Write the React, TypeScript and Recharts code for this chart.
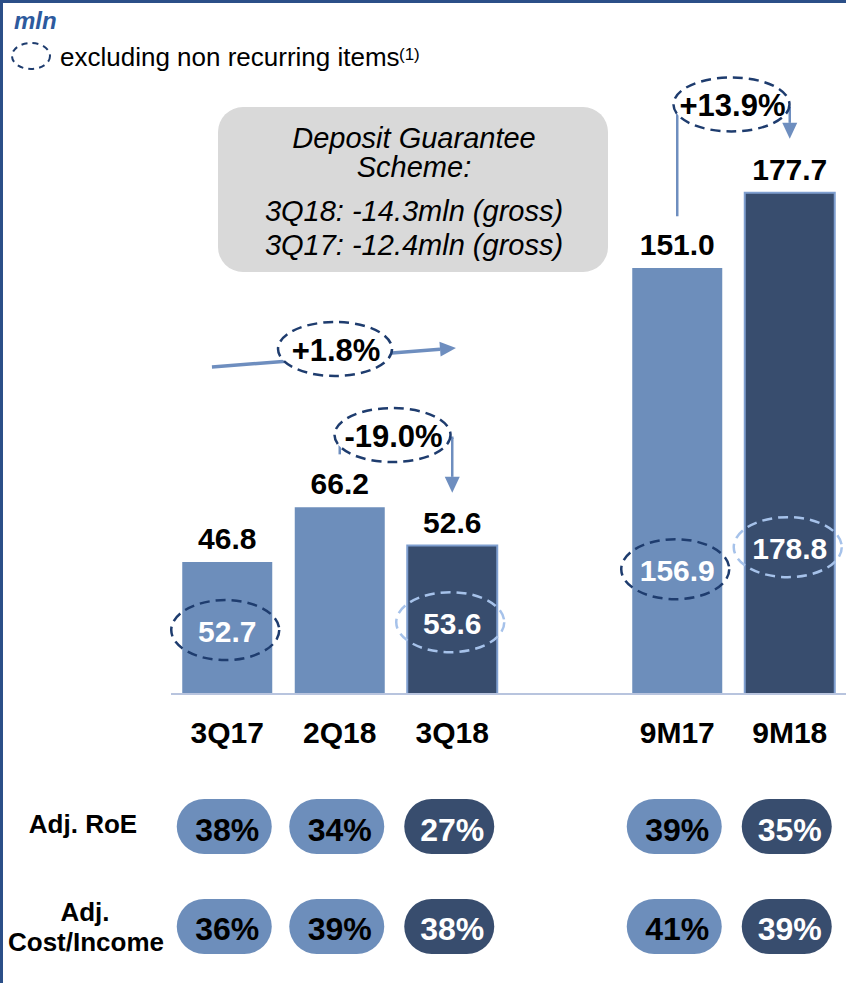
import React from 'react';
import { BarChart, Bar, XAxis, YAxis, Cell, LabelList, ReferenceLine, ReferenceDot } from 'recharts';

// ---------- data ----------
const categories = ['3Q17', '2Q18', '3Q18', ' ', '9M17', '9M18'];
const netProfit: (number | null)[] = [46.8, 66.2, 52.6, null, 151.0, 177.7];
const adjustedProfit: (number | null)[] = [52.7, null, 53.6, null, 156.9, 178.8];
const adjRoE: (number | null)[] = [38, 34, 27, null, 39, 35];
const adjCostIncome: (number | null)[] = [36, 39, 38, null, 41, 39];
const currentPeriod = [false, false, true, false, false, true];
const growthLabels = ['+1.8%', '-19.0%', '+13.9%'];

const data = categories.map((c, i) => ({ name: c, value: netProfit[i] }));

// ---------- style ----------
const FONT = "'Liberation Sans', Arial, Helvetica, sans-serif";
const LIGHT = '#6d8ebb';
const DARK = '#384d6e';
const DARK_EDGE = '#7f9fd0';
const AXIS = '#b8c4de';
const ARROW = '#6e8ebf';
const DASH_DARK = '#1e3c6e';
const DASH_LIGHT = '#a6c2ea';
const FRAME = '#2b4f88';
const TITLE = '#2d5a9e';

const W = 846;
const H = 983;
const PLOT_LEFT = 171;
const BAND = (W - PLOT_LEFT) / categories.length;

// annotation layout in data space (x: category position on numeric axis, y: value axis)
const growthLine = { from: { x: -0.136, y: 115.9 }, to: { x: 2.033, y: 122.7 } };
const growthBubble = { x: 0.958, y: 122.3 };
const qoqPath = [
  { x: 1, y: 85.4 },
  { x: 1, y: 90.8 },
  { x: 2, y: 90.8 },
  { x: 2, y: 71.3 },
];
const qoqBubble = { x: 1.469, y: 91.8 };
const ytdPath = [
  { x: 4, y: 169.8 },
  { x: 4, y: 207.7 },
  { x: 5, y: 207.7 },
  { x: 5, y: 196.8 },
];
const ytdBubble = { x: 4.482, y: 209.0 };

const renderSeg = (arrow: boolean, width: number) => (p: any) => {
  const { x1, y1, x2, y2 } = p;
  if ([x1, y1, x2, y2].some((v) => v == null || Number.isNaN(v))) return null;
  const dx = x2 - x1;
  const dy = y2 - y1;
  const len = Math.hypot(dx, dy) || 1;
  const ux = dx / len;
  const uy = dy / len;
  const head = arrow ? 16 : 0;
  const hw = 7.5;
  const ex = x2 - ux * head;
  const ey = y2 - uy * head;
  return (
    <g>
      <line x1={x1} y1={y1} x2={ex} y2={ey} stroke={ARROW} strokeWidth={width} strokeLinecap={arrow ? 'butt' : 'square'} />
      {arrow && (
        <polygon
          points={`${x2},${y2} ${ex - uy * hw},${ey + ux * hw} ${ex + uy * hw},${ey - ux * hw}`}
          fill={ARROW}
        />
      )}
    </g>
  );
};

const renderBubble = (label: string, rx: number, ry: number) => (p: any) => {
  const { cx, cy } = p;
  if (cx == null || cy == null) return null;
  return (
    <g>
      <ellipse cx={cx} cy={cy} rx={rx} ry={ry} fill="#ffffff" stroke={DASH_DARK} strokeWidth={2.5} strokeDasharray="10 6" />
      <text x={cx + 1} y={cy + 12} textAnchor="middle" fontFamily={FONT} fontWeight="bold" fontSize={31} fill="#000">
        {label}
      </text>
    </g>
  );
};

const renderAdjusted = (i: number) => (p: any) => {
  const { cx, cy } = p;
  const v = adjustedProfit[i];
  if (cx == null || cy == null || v == null) return null;
  const onDark = currentPeriod[i];
  return (
    <g>
      <ellipse
        cx={cx - 2}
        cy={cy}
        rx={54}
        ry={30}
        fill="none"
        stroke={onDark ? DASH_LIGHT : DASH_DARK}
        strokeWidth={2.5}
        strokeDasharray="10 6"
      />
      <text x={cx} y={cy + 12} textAnchor="middle" fontFamily={FONT} fontWeight="bold" fontSize={30} fill="#ffffff">
        {v.toFixed(1)}
      </text>
    </g>
  );
};

const CategoryTick = (props: any) => {
  const { x, y, index } = props;
  const i = props.payload && props.payload.index != null ? props.payload.index : index;
  const name = categories[i];
  if (!name || !name.trim()) return null;
  const dark = currentPeriod[i];
  const fill = dark ? DARK : LIGHT;
  const txt = dark ? '#ffffff' : '#000000';
  const pw = dark ? 90 : 95;
  const px = x - 3;
  const roe = adjRoE[i];
  const ci = adjCostIncome[i];
  return (
    <g>
      <text x={x} y={y + 49} textAnchor="middle" fontFamily={FONT} fontWeight="bold" fontSize={30} fill="#000">
        {name}
      </text>
      <rect x={px - pw / 2} y={y + 105} width={pw} height={55} rx={27.5} fill={fill} />
      <text x={px + 3} y={y + 147} textAnchor="middle" fontFamily={FONT} fontWeight="bold" fontSize={32} fill={txt}>
        {roe}%
      </text>
      <rect x={px - pw / 2} y={y + 205} width={pw} height={55} rx={27.5} fill={fill} />
      <text x={px + 3} y={y + 246} textAnchor="middle" fontFamily={FONT} fontWeight="bold" fontSize={32} fill={txt}>
        {ci}%
      </text>
    </g>
  );
};

const Decorations = () => (
  <svg width={W} height={H} style={{ position: 'absolute', left: 0, top: 0, pointerEvents: 'none' }}>
    <rect x={0} y={0} width={W} height={3} fill={FRAME} />
    <rect x={0} y={0} width={3} height={H} fill={FRAME} />
    <text x={14} y={29} fontFamily={FONT} fontWeight="bold" fontStyle="italic" fontSize={24} fill={TITLE}>
      mln
    </text>
    <ellipse cx={31} cy={56} rx={19} ry={13} fill="none" stroke={DASH_DARK} strokeWidth={2} strokeDasharray="6 5" />
    <text x={60} y={66} fontFamily={FONT} fontSize={26} fill="#000">
      excluding non recurring items
    </text>
    <text x={399} y={60} fontFamily={FONT} fontSize={17} fill="#000">
      (1)
    </text>
    <rect x={218} y={107} width={390} height={165} rx={25} fill="#d9d9d9" />
    <g fontFamily={FONT} fontStyle="italic" fontSize={29} fill="#000" textAnchor="middle">
      <text x={414} y={148}>Deposit Guarantee</text>
      <text x={414} y={177}>Scheme:</text>
      <text x={414} y={221}>3Q18: -14.3mln (gross)</text>
      <text x={414} y={255}>3Q17: -12.4mln (gross)</text>
    </g>
    <g fontFamily={FONT} fontWeight="bold" fontSize={26} fill="#000" textAnchor="middle">
      <text x={83} y={833}>Adj. RoE</text>
      <text x={85} y={921}>Adj.</text>
      <text x={86} y={951}>Cost/Income</text>
    </g>
  </svg>
);

export default function App() {
  return (
    <div style={{ position: 'absolute', left: 0, top: 0, width: W, height: H, background: '#fff', overflow: 'hidden' }}>
      <Decorations />
      <div style={{ position: 'absolute', left: 0, top: 0 }}>
        <BarChart
          width={W}
          height={H}
          data={data}
          margin={{ top: 17, right: 0, bottom: 229, left: PLOT_LEFT }}
          barCategoryGap="10%"
        >
          <XAxis
            dataKey="name"
            height={60}
            interval={0}
            tickSize={0}
            tickMargin={0}
            tickLine={false}
            axisLine={{ stroke: AXIS, strokeWidth: 2 }}
            tick={<CategoryTick />}
          />
          <XAxis
            xAxisId="num"
            type="number"
            domain={[0, categories.length - 1]}
            padding={{ left: BAND / 2, right: BAND / 2 }}
            allowDataOverflow
            hide
            orientation="top"
            height={0}
          />
          <YAxis hide domain={[0, 240]} allowDataOverflow width={0} />
          <Bar dataKey="value" isAnimationActive={false}>
            {data.map((d, i) => (
              <Cell
                key={d.name + i}
                fill={currentPeriod[i] ? DARK : LIGHT}
                stroke={currentPeriod[i] ? DARK_EDGE : 'none'}
                strokeWidth={currentPeriod[i] ? 2 : 0}
              />
            ))}
            <LabelList
              dataKey="value"
              position="top"
              offset={13}
              fill="#000"
              fontFamily={FONT}
              fontWeight="bold"
              fontSize={30}
              formatter={(v: any) => (v == null ? '' : Number(v).toFixed(1))}
            />
          </Bar>

          <ReferenceLine
            xAxisId="num"
            ifOverflow="visible"
            segment={[growthLine.from, growthLine.to]}
            shape={renderSeg(true, 3.5)}
          />
          {qoqPath.slice(0, -1).map((pt, k) => (
            <ReferenceLine
              key={'q' + k}
              xAxisId="num"
              ifOverflow="visible"
              segment={[pt, qoqPath[k + 1]]}
              shape={renderSeg(k === qoqPath.length - 2, 2.5)}
            />
          ))}
          {ytdPath.slice(0, -1).map((pt, k) => (
            <ReferenceLine
              key={'y' + k}
              xAxisId="num"
              ifOverflow="visible"
              segment={[pt, ytdPath[k + 1]]}
              shape={renderSeg(k === ytdPath.length - 2, 2.5)}
            />
          ))}

          <ReferenceDot xAxisId="num" ifOverflow="visible" x={growthBubble.x} y={growthBubble.y} shape={renderBubble(growthLabels[0], 57, 27)} />
          <ReferenceDot xAxisId="num" ifOverflow="visible" x={qoqBubble.x} y={qoqBubble.y} shape={renderBubble(growthLabels[1], 58, 27)} />
          <ReferenceDot xAxisId="num" ifOverflow="visible" x={ytdBubble.x} y={ytdBubble.y} shape={renderBubble(growthLabels[2], 58, 27)} />

          {adjustedProfit.map((v, i) =>
            v == null || netProfit[i] == null ? null : (
              <ReferenceDot
                key={'adj' + i}
                xAxisId="num"
                ifOverflow="visible"
                x={i}
                y={(netProfit[i] as number) * (i >= 4 ? 0.293 : 0.484)}
                shape={renderAdjusted(i)}
              />
            )
          )}
        </BarChart>
      </div>
    </div>
  );
}
